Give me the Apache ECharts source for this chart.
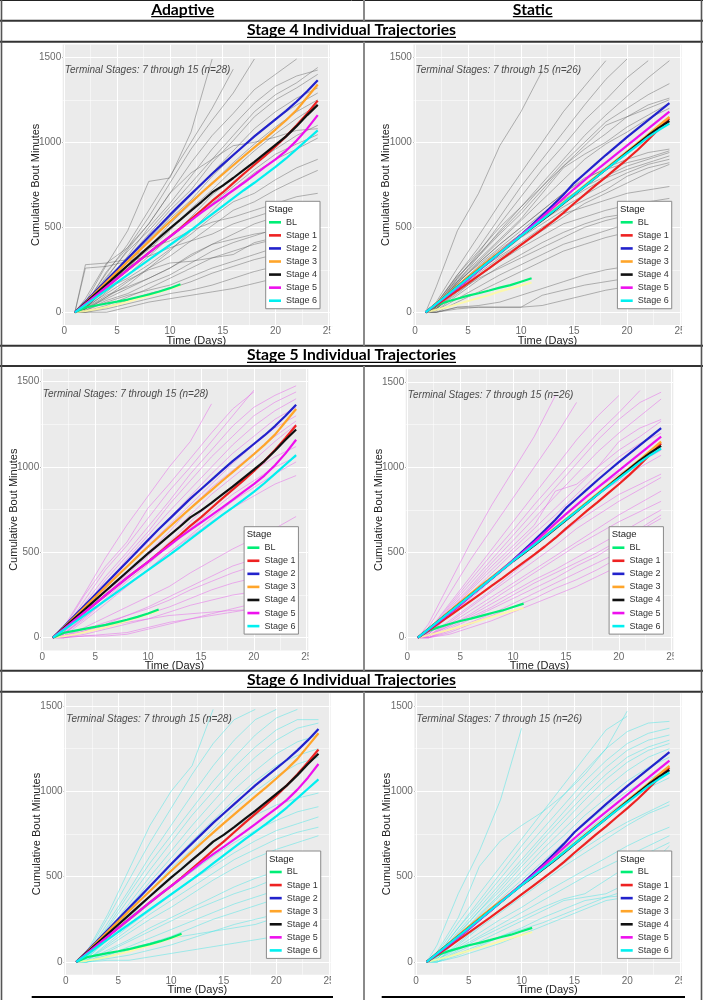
<!DOCTYPE html>
<html><head><meta charset="utf-8">
<script src="https://cdn.jsdelivr.net/npm/echarts@6/dist/echarts.min.js"></script>
<style>html,body{margin:0;padding:0;background:#fff}#c{width:703px;height:1000px}</style>
</head><body><div id="c"></div>
<script>
const FONT = "'Liberation Sans', Arial, sans-serif";
const HFONT = "Lato, 'Open Sans', sans-serif";

// ---------- categories / ticks ----------
const DAYS = [1,2,3,4,5,6,7,8,9,10,11,12,13,14,15,16,17,18,19,20,21,22,23,24];
const BL_DAYS = [1,2,3,4,5,6,7,8,9,10,11];
const TRAJ_DAYS = [1,2,4,6,8,10,12,14,16,18,20,22,24];
const STAGES = ['BL','Stage 1','Stage 2','Stage 3','Stage 4','Stage 5','Stage 6'];
const X_TICKS = [0,5,10,15,20,25];
const X_MINOR = [2.5,7.5,12.5,17.5,22.5];
const Y_TICKS = [0,500,1000,1500];
const Y_MINOR = [250,750,1250];
const COLUMN_TITLES = ['Adaptive','Static'];
const ROW_TITLES = ['Stage 4 Individual Trajectories','Stage 5 Individual Trajectories','Stage 6 Individual Trajectories'];
const NOTE_A = 'Terminal Stages: 7 through 15 (n=28)';
const NOTE_S = 'Terminal Stages: 7 through 15 (n=26)';
const X_NAME = 'Time (Days)';
const Y_NAME = 'Cumulative Bout Minutes';

// ---------- mean trajectories: Adaptive ----------
const A_BL = [0,28,40,52,63,75,90,105,122,142,165];
const A_BL_SHADE = [0,8,18,32,46,62,80,98,118,138,158];
const A_S1 = [0,50,100,150,200,250,300,350,398,445,495,548,600,655,705,760,815,868,920,975,1035,1100,1170,1245];
const A_S2 = [0,62,125,188,252,316,380,444,508,573,635,695,755,815,870,925,980,1035,1085,1135,1185,1240,1300,1365];
const A_S3 = [0,58,118,178,238,298,357,416,475,533,590,647,703,758,812,865,918,970,1022,1075,1130,1190,1265,1340];
const A_S4 = [0,55,110,165,220,275,330,385,440,494,545,598,650,705,745,790,838,885,935,985,1035,1095,1160,1220];
const A_S5 = [0,50,100,150,200,250,300,350,398,445,492,540,588,632,675,718,762,808,855,900,950,1010,1080,1160];
const A_S6 = [0,44,88,132,176,220,264,308,352,396,440,484,530,578,625,672,718,762,808,855,905,960,1015,1070];

// ---------- mean trajectories: Static ----------
const S_BL = [0,40,62,80,98,112,128,145,160,180,200];
const S_BL_SHADE = [0,15,30,48,66,84,102,122,140,158,175];
const S_S1 = [0,42,85,128,172,216,260,305,350,396,442,488,535,585,640,692,745,795,848,900,955,1015,1078,1140];
const S_S2 = [0,48,96,144,194,246,298,350,402,455,512,570,630,692,760,815,870,925,978,1030,1080,1130,1180,1230];
const S_S3 = [0,52,104,156,208,258,308,356,404,452,500,548,596,646,695,745,795,845,895,945,995,1045,1098,1150];
const S_S4 = [0,50,100,150,200,250,300,350,400,450,495,542,590,640,690,740,790,840,890,940,990,1040,1085,1125];
const S_S5 = [0,48,96,144,194,246,298,350,402,452,505,560,615,670,725,778,830,880,930,980,1030,1080,1130,1180];
const S_S6 = [0,50,100,150,200,250,300,350,400,450,497,545,593,642,692,741,790,840,888,935,982,1030,1072,1110];

// ---------- individual trajectories (values at TRAJ_DAYS) ----------
const TRAJ_A4 = [
 [0,60,280,480,770,790,1060,1490],
 [0,50,230,400,600,800,1000,1200,1430],
 [0,80,290,380,560,760,960,1130,1290,1490],
 [0,40,200,370,520,700,880,1040,1170,1310,1400,1490],
 [0,30,180,330,500,640,800,960,1100,1230,1330,1390,1425],
 [0,50,210,360,480,620,760,900,1040,1180,1280,1350,1440],
 [0,40,170,320,460,600,720,880,1010,1150,1250,1320,1400],
 [0,30,160,300,430,560,690,820,950,1080,1180,1260,1320],
 [0,20,150,280,420,550,660,800,920,1040,1140,1220,1290],
 [0,30,130,260,380,520,640,760,880,990,1090,1180,1250],
 [0,20,150,270,370,480,610,720,840,950,1050,1140,1220],
 [0,40,170,260,350,440,560,690,790,880,960,1040,1100],
 [0,20,120,220,330,440,540,640,740,840,930,990,1045],
 [0,10,90,180,260,360,480,600,720,820,900,960,1025],
 [0,30,140,200,280,370,460,560,650,700,780,850,900],
 [0,20,90,160,260,330,420,510,600,650,720,780,835],
 [0,280,290,310,380,420,480,530,560,600,640,680,700],
 [0,260,270,300,330,380,420,460,520,560,600,630,640],
 [0,20,80,140,200,260,330,400,460,520,560,580,600],
 [0,10,70,110,170,220,290,360,410,450,490,520,540],
 [0,5,40,90,140,200,260,320,360,400,430,450,470],
 [0,10,60,100,130,160,210,260,300,340,380,410,430],
 [0,0,30,70,110,140,180,230,270,310,340,360,380],
 [0,0,20,50,80,110,130,160,200,240,270,300,320],
 [0,0,0,30,60,80,100,120,140,170,200,230,260],
 [0,20,100,150,200,260,340,400,430,460,480,490,620],
 [0,30,110,190,250,290,300,320,340,410,440,450,560],
 [0,40,240,380,520,700,820,900,980,1000,1030,1070,1080]
];
const TRAJ_S4 = [
 [0,150,480,700,980,1180,1420],
 [0,60,260,450,640,820,1000,1180,1330,1480],
 [0,50,220,380,560,740,900,1060,1220,1370,1490],
 [0,40,200,350,520,680,840,980,1130,1250,1380,1480],
 [0,30,180,330,480,620,760,900,1040,1160,1270,1380,1480],
 [0,40,200,340,470,600,740,880,1000,1120,1200,1280,1345],
 [0,50,210,330,460,580,720,860,960,1050,1150,1220,1260],
 [0,40,190,310,430,550,700,850,930,1000,1090,1160,1230],
 [0,30,180,300,420,540,660,780,900,990,1060,1140,1200],
 [0,30,170,290,400,500,600,700,780,850,900,940,960],
 [0,40,180,280,380,480,580,660,740,800,860,900,940],
 [0,20,150,260,360,460,560,640,720,790,840,880,920],
 [0,30,160,270,370,460,540,620,690,760,820,870,900],
 [0,20,140,240,340,440,520,600,660,720,800,850,880],
 [0,20,130,230,320,400,480,560,640,700,760,820,870],
 [0,30,150,250,330,410,500,580,620,660,700,720,740],
 [0,20,110,210,300,380,450,520,560,600,630,650,670],
 [0,10,100,190,270,340,410,470,520,560,580,595,600],
 [0,20,120,200,260,320,380,440,500,540,570,585,590],
 [0,10,80,150,220,280,340,400,440,480,520,560,580],
 [0,0,60,120,180,240,300,360,400,440,470,500,530],
 [0,0,30,30,30,30,100,130,160,180,200,220,280],
 [0,0,30,40,60,100,140,180,220,250,270,275,280],
 [0,50,220,360,500,620,740,860,980,1100,1150,1200,1250],
 [0,0,20,30,30,30,40,70,100,130,150,160,170],
 [0,30,170,290,400,500,600,700,790,840,880,910,950]
];
const TRAJ_A5 = [
 [0,60,260,470,660,830,1000,1150,1370],
 [0,50,250,420,560,760,900,1050,1200,1340,1440],
 [0,40,220,400,540,700,860,1000,1150,1300,1450],
 [0,30,200,360,500,650,800,960,1100,1240,1350,1420,1476],
 [0,40,180,340,480,620,780,920,1060,1180,1300,1380,1440],
 [0,30,170,310,460,600,740,870,1000,1130,1240,1330,1400],
 [0,30,160,300,440,560,700,830,960,1080,1180,1280,1350],
 [0,20,150,290,420,540,660,780,900,1020,1130,1230,1300],
 [0,30,140,260,380,500,620,760,880,980,1080,1180,1270],
 [0,20,130,250,370,480,600,720,840,940,1040,1150,1250],
 [0,20,120,230,340,450,560,680,790,890,980,1060,1120],
 [0,20,110,220,330,430,540,640,740,840,920,1000,1060],
 [0,10,100,200,300,400,500,600,700,800,880,960,1030],
 [0,20,120,220,310,400,500,590,680,760,830,900,950],
 [0,10,60,120,180,240,300,380,450,520,580,640,710],
 [0,0,40,80,130,180,240,300,360,420,460,490,520],
 [0,10,50,90,130,170,220,280,330,380,420,450,480],
 [0,0,30,60,100,140,180,230,280,320,350,370,390],
 [0,0,20,50,80,110,150,190,220,250,270,290,300],
 [0,0,10,10,20,50,80,110,140,170,200,220,240],
 [0,0,10,20,30,60,90,110,130,150,170,180,200],
 [0,10,40,70,90,110,130,140,150,160,165,170,170]
];
const TRAJ_S5 = [
 [0,80,320,560,780,980,1180,1420],
 [0,60,260,460,640,820,1000,1180,1380],
 [0,40,200,360,520,680,840,1000,1160,1300,1420],
 [0,40,190,340,490,630,780,920,1060,1200,1320,1450],
 [0,30,180,320,460,600,740,880,1020,1160,1280,1380,1440],
 [0,30,170,300,440,570,700,830,960,1090,1200,1300,1400],
 [0,30,160,290,420,540,660,860,900,1000,1150,1230,1280],
 [0,20,150,280,400,520,640,760,880,1000,1100,1180,1270],
 [0,20,140,260,380,500,610,720,840,960,1060,1140,1200],
 [0,20,130,240,350,460,570,680,780,880,960,1030,1100],
 [0,20,130,230,340,440,540,640,740,840,920,1000,1070],
 [0,10,100,190,280,380,480,580,680,760,840,900,960],
 [0,10,90,180,270,360,450,540,640,720,800,870,940],
 [0,10,80,160,240,320,400,480,560,640,720,790,860],
 [0,10,70,140,220,300,380,460,540,610,680,740,800],
 [0,10,70,130,200,270,340,400,470,540,610,680,750],
 [0,0,60,120,180,250,320,380,440,500,570,640,720],
 [0,0,50,110,170,230,290,350,420,480,560,630,700],
 [0,0,40,90,140,200,260,320,380,440,500,570,640],
 [0,0,30,80,130,180,230,290,340,400,470,540,610],
 [0,0,20,60,100,150,200,250,300,360,420,490,560]
];
const TRAJ_A6 = [
 [0,60,280,540,800,1000,1150,1480],
 [0,50,260,480,700,900,1100,1280,1420,1480],
 [0,40,230,420,620,800,980,1150,1300,1420,1480],
 [0,40,210,400,580,740,900,1060,1200,1330,1430,1480],
 [0,30,200,370,540,700,860,1000,1140,1260,1360,1420,1420],
 [0,30,180,340,500,650,800,940,1080,1200,1300,1370,1400],
 [0,30,170,320,470,610,750,880,1010,1120,1220,1290,1330],
 [0,20,160,300,440,580,710,830,950,1060,1150,1210,1250],
 [0,30,160,290,420,550,660,780,900,1000,1090,1160,1200],
 [0,20,140,260,380,500,600,700,790,860,920,960,990],
 [0,20,130,240,340,440,530,620,700,770,830,880,910],
 [0,10,110,210,300,390,480,560,640,710,770,810,850],
 [0,10,100,190,280,360,440,520,600,660,720,760,790],
 [0,10,90,170,250,320,400,480,550,610,660,700,740],
 [0,10,70,130,200,260,320,380,440,490,530,570,600],
 [0,0,60,120,180,240,300,350,400,440,490,530,560],
 [0,0,40,90,140,190,240,290,340,380,420,450,470],
 [0,0,30,70,110,150,200,250,290,330,370,400,420],
 [0,0,20,40,70,100,140,180,220,250,280,300,320],
 [0,0,10,10,30,50,70,90,110,130,150,170,180],
 [0,10,40,80,110,140,160,180,200,220,260,300,350]
];
const TRAJ_S6 = [
 [0,100,400,650,950,1370],
 [0,60,260,560,710,800,880,980,1100,1250,1470],
 [0,50,230,400,560,720,880,1040,1200,1360,1440],
 [0,40,200,360,520,680,830,980,1120,1250,1350,1400,1410],
 [0,40,200,340,490,640,780,920,1060,1180,1280,1340,1370],
 [0,30,180,320,460,600,740,880,1020,1140,1240,1300,1330],
 [0,30,170,300,440,580,720,850,980,1100,1200,1260,1300],
 [0,30,160,300,420,560,690,820,950,1070,1170,1240,1280],
 [0,20,150,280,400,530,660,780,900,1020,1120,1200,1250],
 [0,20,140,270,390,510,630,740,860,960,1060,1140,1200],
 [0,20,130,250,370,480,590,700,810,910,1000,1070,1130],
 [0,20,130,240,350,460,560,660,760,860,950,1020,1080],
 [0,10,110,210,310,400,490,580,670,750,820,880,940],
 [0,10,100,200,290,380,470,560,640,720,800,870,920],
 [0,10,90,170,250,320,400,470,540,610,680,740,790],
 [0,10,80,150,220,290,360,430,500,560,620,680,740],
 [0,0,70,140,200,260,320,370,400,480,560,640,700],
 [0,0,60,120,180,240,300,360,380,400,460,560,680],
 [0,0,40,90,150,200,260,310,360,380,390,480,600],
 [0,0,30,70,110,160,210,260,310,360,380,440,580],
 [0,10,50,100,150,190,230,280,330,380,420,470,520]
];

// ---------- styles ----------
const STAGE_COLORS = ['#00EE76','#EE2222','#2222CC','#FFA52A','#111111','#EE10EE','#00F0F0'];
const GRAY_T = 'rgba(95,95,95,0.5)';
const MAG_T = 'rgba(228,100,232,0.55)';
const CYAN_T = 'rgba(60,228,228,0.5)';

const COLS = {
  A: {bl: A_BL, shade: A_BL_SHADE, means: [A_S1,A_S2,A_S3,A_S4,A_S5,A_S6], note: NOTE_A},
  S: {bl: S_BL, shade: S_BL_SHADE, means: [S_S1,S_S2,S_S3,S_S4,S_S5,S_S6], note: NOTE_S}
};
// layout: pixel of day 0 / day 25, value 0 / value 1500
const PANELS = [
  {col:'A', traj:TRAJ_A4, tc:GRAY_T, x0:64.3, x25:328.3, y0:312.3, y1500:57.3},
  {col:'S', traj:TRAJ_S4, tc:GRAY_T, x0:415.0, x25:680.0, y0:312.3, y1500:57.3},
  {col:'A', traj:TRAJ_A5, tc:MAG_T, x0:42.3, x25:306.7, y0:637.7, y1500:381.7},
  {col:'S', traj:TRAJ_S5, tc:MAG_T, x0:407.3, x25:671.7, y0:637.7, y1500:382.0},
  {col:'A', traj:TRAJ_A6, tc:CYAN_T, x0:65.7, x25:329.0, y0:962.0, y1500:706.0},
  {col:'S', traj:TRAJ_S6, tc:CYAN_T, x0:416.0, x25:680.0, y0:962.0, y1500:706.0}
];
const XMIN = -0.15, XMAX = 25.15, YMIN = -75, YMAX = 1575;

function pairs(days, vals){ const out=[]; vals.forEach((v,i)=>{ if(v!=null) out.push([days[i], v]); }); return out; }

const grids=[], xAxes=[], yAxes=[], series=[], legends=[], g=[];
const plain = v => String(v);

PANELS.forEach((p, i) => {
  const ppd = (p.x25 - p.x0)/25, ppu = (p.y0 - p.y1500)/1500;
  const left = p.x0 + XMIN*ppd, top = p.y0 - YMAX*ppu;
  const w = (XMAX-XMIN)*ppd, h = (YMAX-YMIN)*ppu;
  grids.push({left, top, width:w, height:h, show:true, backgroundColor:'#EBEBEB', borderWidth:0, containLabel:false, outerBoundsMode:'none'});
  xAxes.push({type:'value', gridIndex:i, min:XMIN, max:XMAX,
    axisLine:{show:false}, splitLine:{show:false},
    axisTick:{show:true, customValues:X_TICKS, length:2, lineStyle:{color:'#444', width:0.8}},
    axisLabel:{customValues:X_TICKS, formatter:plain, fontSize:10, color:'#6a6a6a', margin:1.5, fontFamily:FONT},
    name:X_NAME, nameLocation:'middle', nameGap:10, nameMoveOverlap:false,
    nameTextStyle:{fontSize:11, color:'#222', fontFamily:FONT, verticalAlign:'top'}});
  yAxes.push({type:'value', gridIndex:i, min:YMIN, max:YMAX,
    axisLine:{show:false}, splitLine:{show:false},
    axisTick:{show:true, customValues:Y_TICKS, length:2, lineStyle:{color:'#444', width:0.8}},
    axisLabel:{customValues:Y_TICKS, formatter:plain, fontSize:10, color:'#6a6a6a', margin:1.5, fontFamily:FONT},
    name:Y_NAME, nameLocation:'middle', nameRotate:90, nameGap:21.5, nameMoveOverlap:false,
    nameTextStyle:{fontSize:11, color:'#222', fontFamily:FONT}});
  const mk = (k, v, wd) => ({[k]: v, lineStyle:{color:'#FFFFFF', width:wd, type:'solid'}});
  const ml = [].concat(
    X_MINOR.map(v=>mk('xAxis',v,0.5)), Y_MINOR.map(v=>mk('yAxis',v,0.5)),
    X_TICKS.map(v=>mk('xAxis',v,1)), Y_TICKS.map(v=>mk('yAxis',v,1)));
  const c = COLS[p.col];
  // gridlines + annotation
  series.push({type:'scatter', name:'note'+i, xAxisIndex:i, yAxisIndex:i, silent:true, animation:false, z:6,
    data:[[0,1425]], symbolSize:1, itemStyle:{color:'rgba(0,0,0,0)'},
    label:{show:true, position:'right', distance:0, formatter:c.note, fontStyle:'italic', fontSize:10, color:'#222', fontFamily:FONT},
    markLine:{silent:true, animation:false, z:1, symbol:['none','none'], label:{show:false}, emphasis:{disabled:true}, data:ml}});
  p.traj.forEach((t, k) => series.push({type:'line', name:'ind'+i+'_'+k, xAxisIndex:i, yAxisIndex:i,
    data:pairs(TRAJ_DAYS, t), symbol:'none', silent:true, animation:false, z:2,
    lineStyle:{color:p.tc, width:0.9}, itemStyle:{color:p.tc}}));
  series.push({type:'line', name:'shade'+i, xAxisIndex:i, yAxisIndex:i, data:pairs(BL_DAYS, c.shade),
    symbol:'none', silent:true, animation:false, z:3, lineStyle:{color:'rgba(255,250,160,0.85)', width:2}});
  const all = [c.bl].concat(c.means);
  all.forEach((m, k) => series.push({type:'line', name:STAGES[k], xAxisIndex:i, yAxisIndex:i,
    data:pairs(k===0?BL_DAYS:DAYS, m), symbol:'none', silent:true, animation:false, z:4,
    lineStyle:{color:STAGE_COLORS[k], width:2.2}, itemStyle:{color:STAGE_COLORS[k]}}));
  const lx = p.x25 - 62.6, ly = p.y0 - 111;
  legends.push({orient:'vertical', left:lx, top:ly, data:STAGES, icon:'rect', itemWidth:12, itemHeight:2.6, itemGap:1.07,
    padding:[15,3,2,3.3], backgroundColor:'#FFFFFF', borderColor:'#8a8a8a', borderWidth:1, selectedMode:false,
    textStyle:{fontSize:9, color:'#333', lineHeight:12, fontFamily:FONT}, z:8});
  g.push({type:'text', x:lx+2.6, y:ly+3, z:200, silent:true, style:{text:'Stage', font:'9.5px '+FONT, fill:'#222', align:'left', verticalAlign:'top'}});
  // cropped "25" label
  g.push({type:'rect', z:200, silent:true, shape:{x:p.x25+2, y:top+h+1, width:14, height:12}, style:{fill:'#FFFFFF'}});
});

// ---------- table frame ----------
function hl(x1,x2,y,w,c){ g.push({type:'line', z:150, silent:true, shape:{x1:x1,y1:y,x2:x2,y2:y}, style:{stroke:c,lineWidth:w}}); }
function vl(x,y1,y2,w,c){ g.push({type:'line', z:150, silent:true, shape:{x1:x,y1:y1,x2:x,y2:y2}, style:{stroke:c,lineWidth:w}}); }
hl(0,703,0.5,1,'#222');
[20.7,41.7,345.7,366,670.7,691.7].forEach(y=>hl(0,703,y,2,'#333'));
vl(1.5,0,1000,1.6,'#555'); vl(701.5,0,1000,1.6,'#555');
[[0,20.7],[41.7,345.7],[366,670.7],[691.7,1000]].forEach(s=>vl(364,s[0],s[1],2,'#8a8a8a'));
hl(31.7,333,997,2,'#000'); hl(381.7,685,997,2,'#000');

const ctx = document.createElement('canvas').getContext('2d');
ctx.font = 'bold 14px ' + HFONT;
const fs = 14 * 209 / ctx.measureText(ROW_TITLES[0]).width;
function header(text, cx, rowTop){
  const font = 'bold ' + fs.toFixed(2) + 'px ' + HFONT;
  ctx.font = font;
  const tw = ctx.measureText(text).width;
  g.push({type:'text', x:cx, y:rowTop+9.6, z:160, silent:true, style:{text:text, font:font, fill:'#000', align:'center', verticalAlign:'middle'}});
  hl(cx-tw/2, cx+tw/2, rowTop+16.6, 1.3, '#000');
}
header(COLUMN_TITLES[0], 182.7, 0);
header(COLUMN_TITLES[1], 532.7, 0);
header(ROW_TITLES[0], 351.5, 20.7);
header(ROW_TITLES[1], 351.5, 345.7);
header(ROW_TITLES[2], 351.5, 670.7);

const chart = echarts.init(document.getElementById('c'), null, {renderer:'canvas', width:703, height:1000});
chart.setOption({animation:false, backgroundColor:'#FFFFFF', textStyle:{fontFamily:FONT},
  grid:grids, xAxis:xAxes, yAxis:yAxes, series:series, legend:legends, graphic:{elements:g}});
</script></body></html>
